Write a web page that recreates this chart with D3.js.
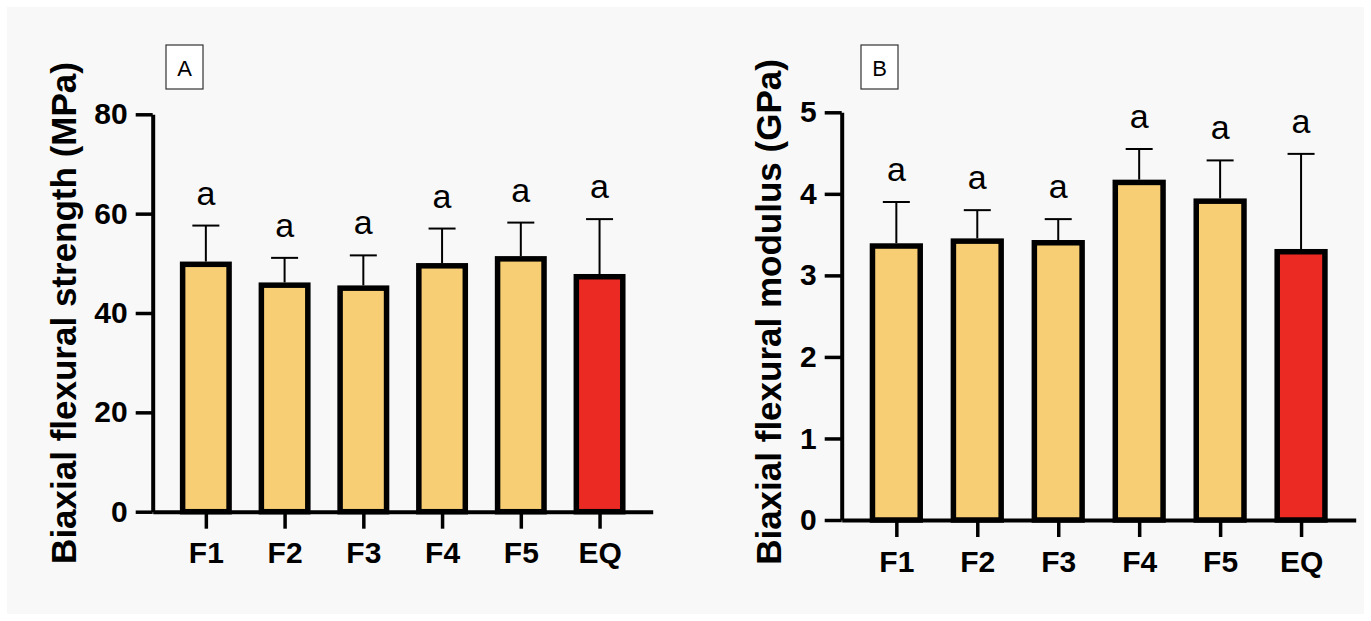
<!DOCTYPE html>
<html>
<head>
<meta charset="utf-8">
<script src="https://cdn.jsdelivr.net/npm/d3@7"></script>
<style>
  body { margin: 0; background: #ffffff; }
  svg { display: block; }
  text { font-family: "Liberation Sans", Arial, Helvetica, sans-serif; fill: #000; }
</style>
</head>
<body>
<div class="container"></div>
<script>
// Data
const categories = ['F1', 'F2', 'F3', 'F4', 'F5', 'EQ'];
const strengthMean = [49.8, 45.6, 45.0, 49.5, 50.9, 47.3];
const strengthSD = [7.8, 5.5, 6.6, 7.5, 7.3, 11.6];
const modulusMean = [3.36, 3.42, 3.40, 4.14, 3.91, 3.29];
const modulusSD = [0.54, 0.38, 0.29, 0.41, 0.50, 1.20];
const letters = ['a', 'a', 'a', 'a', 'a', 'a'];
const barColors = ['#F7CE74', '#F7CE74', '#F7CE74', '#F7CE74', '#F7CE74', '#EC2A24'];
const strengthTicks = [0, 20, 40, 60, 80];
const modulusTicks = [0, 1, 2, 3, 4, 5];

const width = 1371;
const height = 621;

const svg = d3.select('.container').append('svg')
  .attr('width', width)
  .attr('height', height);

// light grey page with a thin white frame
svg.append('rect')
  .attr('x', 7).attr('y', 7)
  .attr('width', width - 14).attr('height', height - 14)
  .attr('fill', '#f8f8f8');

function drawPanel(opts) {
  const g = svg.append('g');

  const x = d3.scalePoint()
    .domain(categories)
    .range([opts.left, opts.right])
    .padding(0.675);

  const y = d3.scaleLinear()
    .domain([0, opts.yMax])
    .range([opts.bottom, opts.top]);

  const barW = x.step() * 0.59;

  // bars
  g.selectAll('rect.bar')
    .data(opts.means)
    .join('rect')
    .attr('class', 'bar')
    .attr('x', (d, i) => x(categories[i]) - barW / 2)
    .attr('y', d => y(d))
    .attr('width', barW)
    .attr('height', d => y(0) - y(d))
    .attr('fill', (d, i) => barColors[i])
    .attr('stroke', '#000')
    .attr('stroke-width', 5.5);

  // error bars (upper only)
  const capW = 27;
  opts.means.forEach((m, i) => {
    const cx = x(categories[i]);
    const top = y(m + opts.sd[i]);
    g.append('line')
      .attr('x1', cx).attr('x2', cx)
      .attr('y1', y(m) - 2.75).attr('y2', top)
      .attr('stroke', '#000').attr('stroke-width', 2);
    g.append('line')
      .attr('x1', cx - capW / 2).attr('x2', cx + capW / 2)
      .attr('y1', top).attr('y2', top)
      .attr('stroke', '#000').attr('stroke-width', 2);
    // significance letter
    g.append('text')
      .attr('x', cx)
      .attr('y', top - 21)
      .attr('text-anchor', 'middle')
      .attr('font-size', 34)
      .text(letters[i]);
  });

  // y axis
  const yAxis = g.append('g')
    .attr('transform', `translate(${opts.left},0)`)
    .call(d3.axisLeft(y).tickValues(opts.ticks).tickFormat(d3.format('d'))
      .tickSize(17).tickSizeOuter(0).tickPadding(8));
  yAxis.select('.domain').attr('stroke-width', 4).attr('stroke', '#000');
  yAxis.selectAll('.tick line').attr('stroke-width', 3.5).attr('stroke', '#000');
  yAxis.selectAll('.tick text')
    .attr('font-size', 30)
    .attr('font-weight', 'bold')
    .attr('fill', '#000');

  // x axis
  const xAxis = g.append('g')
    .attr('transform', `translate(0,${opts.bottom})`)
    .call(d3.axisBottom(x).tickSize(17).tickSizeOuter(0).tickPadding(13.5));
  xAxis.select('.domain').attr('stroke-width', 4).attr('stroke', '#000');
  xAxis.selectAll('.tick line').attr('stroke-width', 3.5).attr('stroke', '#000');
  xAxis.selectAll('.tick text')
    .attr('font-size', 30)
    .attr('font-weight', 'bold')
    .attr('fill', '#000');

  // y axis title
  g.append('text')
    .attr('transform', `translate(${opts.titleX},${opts.titleY}) rotate(-90)`)
    .attr('text-anchor', 'middle')
    .attr('font-size', 35)
    .attr('font-weight', 'bold')
    .text(opts.title);

  // panel letter in a box
  g.append('rect')
    .attr('x', opts.boxX).attr('y', 45)
    .attr('width', 37).attr('height', 44)
    .attr('fill', '#fff')
    .attr('stroke', '#333')
    .attr('stroke-width', 1.2);
  g.append('text')
    .attr('x', opts.boxX + 18.5)
    .attr('y', 76)
    .attr('text-anchor', 'middle')
    .attr('font-size', 22)
    .text(opts.panel);
}

drawPanel({
  panel: 'A',
  title: 'Biaxial flexural strength (MPa)',
  means: strengthMean,
  sd: strengthSD,
  ticks: strengthTicks,
  yMax: 80,
  left: 152.7, right: 652.7, top: 114.3, bottom: 511.7,
  titleX: 76, titleY: 313,
  boxX: 166
});

drawPanel({
  panel: 'B',
  title: 'Biaxial flexural modulus (GPa)',
  means: modulusMean,
  sd: modulusSD,
  ticks: modulusTicks,
  yMax: 5,
  left: 841.7, right: 1355.7, top: 112.3, bottom: 520,
  titleX: 781, titleY: 312,
  boxX: 861
});
</script>
</body>
</html>
